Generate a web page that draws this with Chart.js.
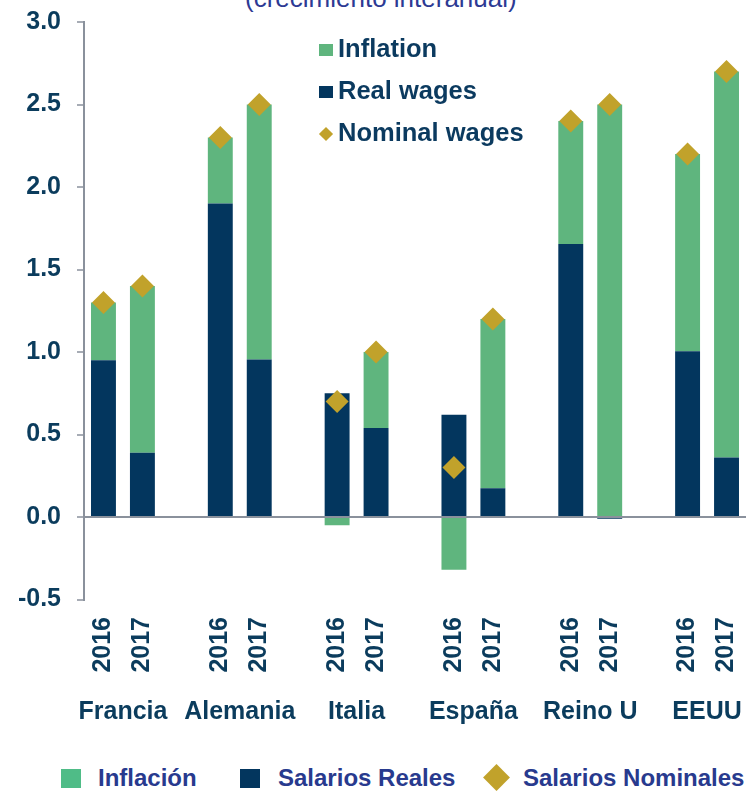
<!DOCTYPE html>
<html>
<head>
<meta charset="utf-8">
<script src="https://cdn.jsdelivr.net/npm/chart.js@4/dist/chart.umd.min.js"></script>
<style>
html,body{margin:0;padding:0;background:#fff;overflow:hidden;}
body{width:749px;height:791px;position:relative;font-family:'Liberation Sans',Arial,sans-serif;}
#wrap{position:absolute;left:0;top:0;width:749px;height:735px;}
.t{position:absolute;white-space:nowrap;font-weight:bold;}
.sw{position:absolute;}
.dm{position:absolute;transform:rotate(45deg);}
#title{position:absolute;left:245px;top:-15px;font-size:26px;line-height:26px;color:#2d3a94;white-space:nowrap;}
.il{font-size:25.5px;line-height:26px;color:#0b3a5f;}
.bl{font-size:24px;line-height:24px;color:#283a8e;}
</style>
</head>
<body>
<div id="title">(crecimiento interanual)</div>
<div id="wrap"><canvas id="c" width="749" height="735"></canvas></div>

<!-- legend inside chart -->
<div class="sw" style="left:319px;top:44px;width:14px;height:12px;background:#5fb57e;"></div>
<div class="t il" style="left:338px;top:34.5px;">Inflation</div>
<div class="sw" style="left:319px;top:86px;width:14px;height:12px;background:#03365e;"></div>
<div class="t il" style="left:338px;top:76.5px;">Real wages</div>
<div class="dm" style="left:321px;top:128.5px;width:10px;height:10px;background:#c1a22b;"></div>
<div class="t il" style="left:338px;top:118.5px;">Nominal wages</div>

<!-- bottom legend -->
<div class="sw" style="left:61px;top:769px;width:20px;height:19px;background:#4fbc87;"></div>
<div class="t bl" style="left:98px;top:766px;">Inflación</div>
<div class="sw" style="left:240px;top:769px;width:20px;height:19px;background:#03365e;"></div>
<div class="t bl" style="left:278px;top:766px;">Salarios Reales</div>
<div class="dm" style="left:486.5px;top:767.5px;width:19px;height:19px;background:#c1a22b;"></div>
<div class="t bl" style="left:523px;top:766px;">Salarios Nominales</div>

<script>
const groups = ['Francia', 'Alemania', 'Italia', 'España', 'Reino U', 'EEUU'];
const years = ['2016', '2017'];
const realWages    = [0.95, 0.39, 1.90, 0.955, 0.75, 0.54, 0.62, 0.175, 1.655, -0.01, 1.005, 0.36];
const inflation    = [0.35, 1.01, 0.40, 1.545, -0.05, 0.46, -0.32, 1.025, 0.745, 2.50, 1.195, 2.34];
const nominalWages = [1.30, 1.40, 2.30, 2.50, 0.70, 1.00, 0.30, 1.20, 2.40, 2.50, 2.20, 2.70];
const yTicks = [-0.5, 0, 0.5, 1.0, 1.5, 2.0, 2.5, 3.0];

// slots: 2016, 2017, gap, ...
const slotLabels = [];
const slotIndex = [];
groups.forEach((g, gi) => {
  years.forEach((y, yi) => { slotLabels.push(y); slotIndex.push(gi * years.length + yi); });
  if (gi < groups.length - 1) { slotLabels.push(''); slotIndex.push(-1); }
});
const expand = arr => slotIndex.map(i => i < 0 ? null : arr[i]);
const groupCenters = groups.map((g, gi) => gi * 3 + 0.5);

const FONT = "'Liberation Sans', Arial, sans-serif";
const NAVY_TXT = '#0b3c5d';
const AXIS = '#8a919c';
const noPad = s => { s.paddingLeft = 0; s.paddingRight = 0; s.paddingTop = 0; s.paddingBottom = 0; };

new Chart(document.getElementById('c'), {
  type: 'bar',
  data: {
    labels: slotLabels,
    datasets: [
      { type: 'bar', label: 'Salarios Reales', data: expand(realWages), backgroundColor: '#03365e',
        stack: 's', order: 1, xAxisID: 'x', yAxisID: 'y', barPercentage: 0.64, categoryPercentage: 1 },
      { type: 'bar', label: 'Inflación', data: expand(inflation), backgroundColor: '#5fb57e',
        stack: 's', order: 2, xAxisID: 'x', yAxisID: 'y', barPercentage: 0.64, categoryPercentage: 1 },
      { type: 'line', label: 'Salarios Nominales', data: expand(nominalWages), showLine: false,
        pointStyle: 'rectRot', pointRadius: 11.5, pointHoverRadius: 11.5, pointBackgroundColor: '#c1a22b',
        backgroundColor: '#c1a22b', pointBorderWidth: 0, borderWidth: 0, stack: 'n', order: 0,
        xAxisID: 'x', yAxisID: 'y', clip: false }
    ]
  },
  options: {
    responsive: false,
    animation: false,
    devicePixelRatio: 1,
    layout: { autoPadding: false, padding: { top: 22, right: 3, bottom: 10.5, left: 0 } },
    plugins: { legend: { display: false }, tooltip: { enabled: false }, title: { display: false } },
    scales: {
      x: {
        type: 'category', stacked: true, offset: true, weight: 0,
        afterFit: s => { s.height = 75; noPad(s); },
        grid: { display: false, drawTicks: false }, border: { display: false },
        ticks: { font: { family: FONT, size: 25, weight: 'bold' }, color: NAVY_TXT,
                 minRotation: 90, maxRotation: 90, autoSkip: false, padding: 17.5 }
      },
      xc: {
        type: 'linear', position: 'bottom', axis: 'x', weight: 1, bounds: 'data',
        min: -0.5, max: slotLabels.length - 0.5, offset: false,
        afterBuildTicks: s => { s.ticks = groupCenters.map(v => ({ value: v })); },
        afterFit: s => { s.height = 50; noPad(s); },
        grid: { display: false, drawTicks: false }, border: { display: false },
        ticks: { callback: (v, i) => groups[i], font: { family: FONT, size: 25, weight: 'bold' },
                 color: NAVY_TXT, minRotation: 0, maxRotation: 0, autoSkip: false, padding: 23 }
      },
      y: {
        stacked: true, min: -0.5, max: 3.0,
        afterBuildTicks: s => { s.ticks = yTicks.map(v => ({ value: v })); },
        afterFit: s => { s.width = 84; noPad(s); },
        ticks: { font: { family: FONT, size: 25, weight: 'bold' }, color: NAVY_TXT, padding: 16,
                 callback: v => Number(v).toFixed(1) },
        grid: { color: c => (c.tick && c.tick.value === 0) ? AXIS : 'rgba(0,0,0,0)', lineWidth: 2,
                tickLength: 7, tickColor: AXIS, tickWidth: 1.5 },
        border: { color: AXIS, width: 2 }
      }
    }
  }
});
</script>
</body>
</html>
